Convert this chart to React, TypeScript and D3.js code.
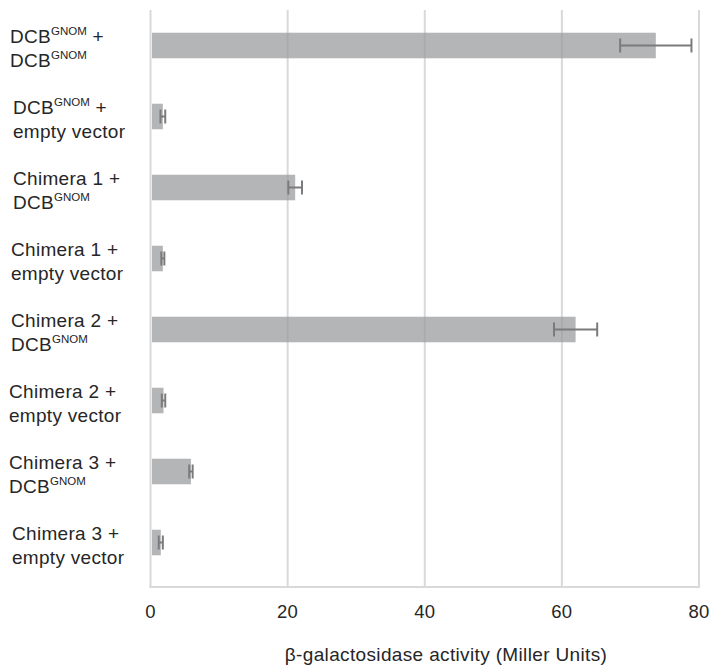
import React from "react";
import * as d3 from "d3";

// ---- data ----
const categories = [
  "DCB{GNOM} +|DCB{GNOM}",
  "DCB{GNOM} +|empty vector",
  "Chimera 1 +|DCB{GNOM}",
  "Chimera 1 +|empty vector",
  "Chimera 2 +|DCB{GNOM}",
  "Chimera 2 +|empty vector",
  "Chimera 3 +|DCB{GNOM}",
  "Chimera 3 +|empty vector",
];
const values = [73.7, 1.8, 21.1, 1.8, 62.0, 1.9, 5.9, 1.5];
const errors = [5.2, 0.35, 1.0, 0.22, 3.15, 0.25, 0.25, 0.3];
const xTicks = [0, 20, 40, 60, 80];
const xTitle = "β-galactosidase activity (Miller Units)";

// layout (not data)
const labelIndent = [10, 13, 13, 11, 11, 9, 9, 12];

const W = 710;
const H = 666;
const FONT = "'Liberation Sans', Arial, Helvetica, sans-serif";
const TEXT = "#262626";

function renderLine(line: string, key: string, x: number, y: number) {
  const parts = line.split(/(\{[^}]+\})/).filter((p) => p.length > 0);
  let sup = false;
  return (
    <text
      key={key}
      x={x}
      y={y}
      fontFamily={FONT}
      fontSize={19}
      letterSpacing={0.3}
      fill={TEXT}
    >
      {parts.map((p, i) => {
        if (p.startsWith("{")) {
          sup = true;
          return (
            <tspan key={i} fontSize={11.5} dy={-8} letterSpacing={0}>
              {p.slice(1, -1)}
            </tspan>
          );
        }
        const dy = sup ? 8 : 0;
        sup = false;
        return (
          <tspan key={i} dy={dy}>
            {p}
          </tspan>
        );
      })}
    </text>
  );
}

export default function App() {
  const x = d3.scaleLinear().domain([0, 80]).range([150.5, 699]);
  const y = d3
    .scaleBand<string>()
    .domain(categories)
    .range([10, 578])
    .paddingInner(0.64)
    .paddingOuter(0.32);
  const bw = y.bandwidth();
  const plotTop = 10;
  const plotBottom = 587;
  const capH = 14;

  return (
    <svg
      width={W}
      height={H}
      style={{ position: "absolute", left: 0, top: 0, background: "#fff" }}
    >
      {/* gridlines */}
      {xTicks.map((t) => (
        <line
          key={"g" + t}
          x1={x(t)}
          x2={x(t)}
          y1={plotTop}
          y2={plotBottom}
          stroke="#d9d9d9"
          strokeWidth={2}
        />
      ))}
      <line
        x1={x(0) - 1}
        x2={x(80) + 1}
        y1={plotBottom}
        y2={plotBottom}
        stroke="#d9d9d9"
        strokeWidth={2}
      />
      {/* bars */}
      {categories.map((c, i) => (
        <rect
          key={"b" + i}
          x={x(0) + 1.5}
          y={y(c)!}
          width={Math.max(0, x(values[i]) - x(0) - 1.5)}
          height={bw}
          fill="rgb(154,155,157)"
          fillOpacity={0.74}
        />
      ))}
      {/* error bars */}
      {categories.map((c, i) => {
        const cy = y(c)! + bw / 2;
        const x1 = x(values[i] - errors[i]);
        const x2 = x(values[i] + errors[i]);
        return (
          <g key={"e" + i} stroke="#7b7b7d" strokeWidth={2}>
            <line x1={x1} x2={x2} y1={cy} y2={cy} />
            <line x1={x1} x2={x1} y1={cy - capH / 2} y2={cy + capH / 2} />
            <line x1={x2} x2={x2} y1={cy - capH / 2} y2={cy + capH / 2} />
          </g>
        );
      })}
      {/* category labels */}
      {categories.map((c, i) => {
        const cy = y(c)! + bw / 2;
        const lines = c.split("|");
        return (
          <g key={"l" + i}>
            {lines.map((ln, j) =>
              renderLine(ln, i + "-" + j, labelIndent[i], cy - 3 + j * 24.2)
            )}
          </g>
        );
      })}
      {/* tick labels */}
      {xTicks.map((t) => (
        <text
          key={"t" + t}
          x={x(t)}
          y={618}
          textAnchor="middle"
          fontFamily={FONT}
          fontSize={18.5}
          letterSpacing={0.3}
          fill={TEXT}
        >
          {t}
        </text>
      ))}
      <text
        x={446}
        y={661}
        textAnchor="middle"
        fontFamily={FONT}
        fontSize={19}
        letterSpacing={0.35}
        fill={TEXT}
      >
        {xTitle}
      </text>
    </svg>
  );
}
